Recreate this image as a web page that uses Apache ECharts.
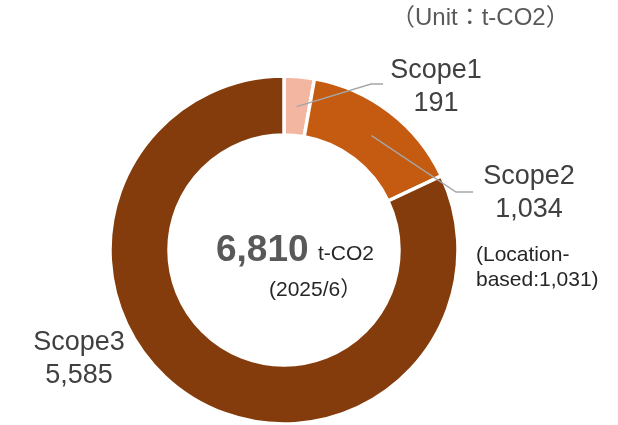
<!DOCTYPE html>
<html>
<head>
<meta charset="utf-8">
<script src="https://cdn.jsdelivr.net/npm/echarts@6/dist/echarts.min.js"></script>
<style>
html,body{margin:0;padding:0;background:#fff;}
#main{width:618px;height:425px;}
</style>
</head>
<body>
<div id="main"></div>
<script>
// ---- data ----
const categories = ['Scope1', 'Scope2', 'Scope3'];
const values = [191, 1034, 5585];
const colors = ['#f3b6a1', '#c55a11', '#843c0c'];
const unitText = '（Unit：t-CO2）';
const totalUnit = 't-CO2';
const periodText = '(2025/6）';
const noteLines = ['(Location-', 'based:1,031)'];

// ---- layout ----
const FONT = '"Liberation Sans", Arial, "Noto Sans CJK JP", sans-serif';
const CX = 284, CY = 250;
const R_IN = 115, R_OUT = 174, R_MID = 144;
const labelPos = [
  { x: 436, y: 87, elbow: [371, 84], end: [383, 84] },
  { x: 529, y: 193, elbow: [456, 192], end: [473, 192] },
  { x: 79, y: 359 }
];

const total = values.reduce((a, b) => a + b, 0);
const fmt = v => v.toLocaleString('en-US');

const chart = echarts.init(document.getElementById('main'), null, { renderer: 'canvas' });

const ringData = categories.map((name, i) => ({
  name,
  value: values[i],
  itemStyle: { color: colors[i] }
}));

const labelData = categories.map((name, i) => ({
  name,
  value: values[i],
  labelLine: { show: i < 2 }
}));

chart.setOption({
  animation: false,
  series: [{
    type: 'pie',
    z: 2,
    center: [CX, CY],
    radius: [R_IN, R_OUT],
    startAngle: 90,
    clockwise: true,
    silent: true,
    itemStyle: { borderColor: '#ffffff', borderWidth: 3.5 },
    emphasis: { disabled: true },
    label: { show: false },
    labelLine: { show: false },
    data: ringData
  }, {
    type: 'pie',
    z: 5,
    center: [CX, CY],
    radius: [R_IN, R_OUT],
    startAngle: 90,
    clockwise: true,
    silent: true,
    avoidLabelOverlap: false,
    itemStyle: { color: 'rgba(0,0,0,0)', borderWidth: 0 },
    emphasis: { disabled: true },
    label: {
      show: true,
      position: 'outside',
      formatter: p => p.name + '\n' + fmt(p.value),
      fontFamily: FONT,
      fontSize: 27,
      lineHeight: 33,
      color: '#404040',
      align: 'center'
    },
    labelLine: {
      show: true,
      length: 20,
      length2: 10,
      smooth: false,
      lineStyle: { color: '#a6a6a6', width: 1.4, opacity: 1 }
    },
    labelLayout: function (params) {
      const i = params.dataIndex;
      const lp = labelPos[i];
      const out = { x: lp.x, y: lp.y, align: 'center', verticalAlign: 'middle' };
      if (lp.elbow && params.labelLinePoints) {
        const p0 = params.labelLinePoints[0];
        const dx = p0[0] - CX, dy = p0[1] - CY;
        const d = Math.sqrt(dx * dx + dy * dy) || 1;
        const start = [CX + dx / d * R_MID, CY + dy / d * R_MID];
        out.labelLinePoints = [start, lp.elbow, lp.end];
      }
      return out;
    },
    data: labelData
  }],
  graphic: [
    { type: 'text', left: 216, top: 232, style: { text: fmt(total), font: 'bold 37px ' + FONT, fill: '#595959' } },
    { type: 'text', left: 318, top: 244, style: { text: totalUnit, font: '21px ' + FONT, fill: '#262626' } },
    { type: 'text', left: 269, top: 280, style: { text: periodText, font: '21px ' + FONT, fill: '#262626' } },
    { type: 'text', left: 476, top: 245, style: { text: noteLines[0], font: '21px ' + FONT, fill: '#262626' } },
    { type: 'text', left: 476, top: 270, style: { text: noteLines[1], font: '21px ' + FONT, fill: '#262626' } },
    { type: 'text', left: 391, top: 6, style: { text: unitText, font: '24px ' + FONT, fill: '#595959' } }
  ]
});
</script>
</body>
</html>
